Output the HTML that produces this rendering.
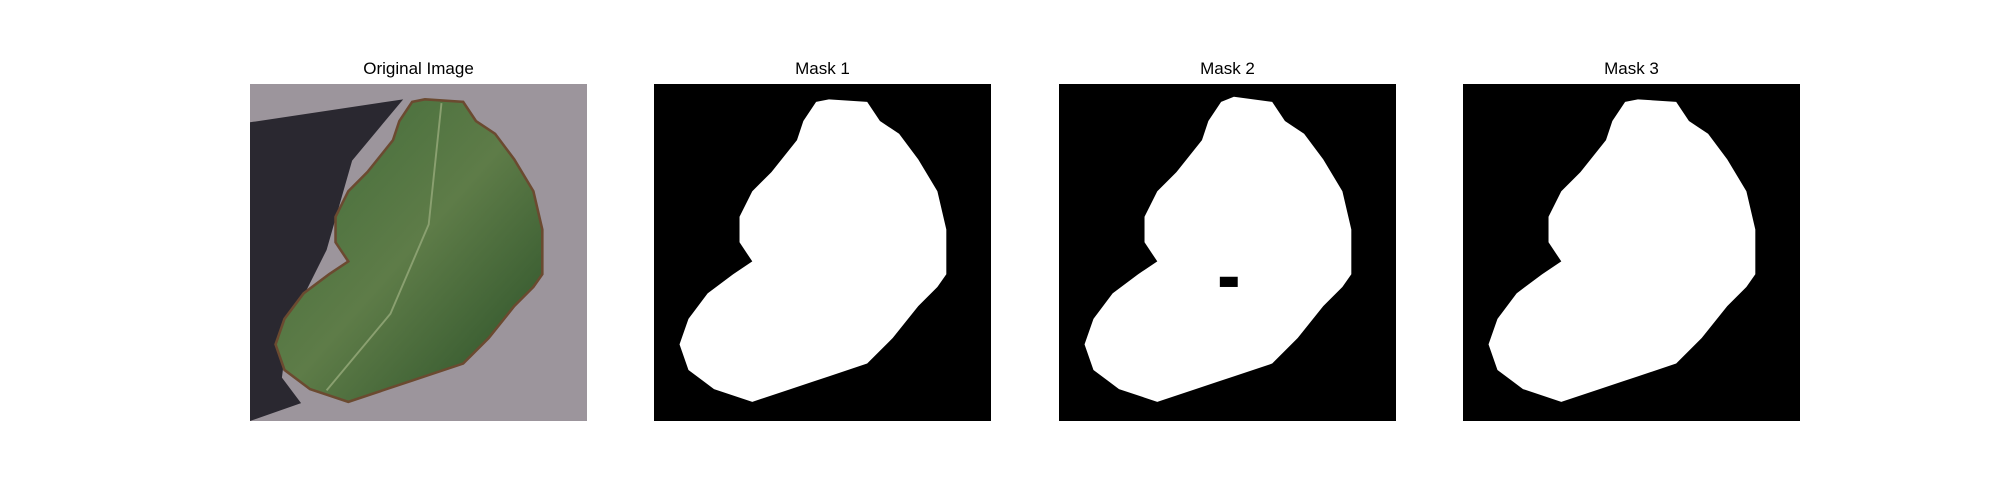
<!DOCTYPE html>
<html><head><meta charset="utf-8"><style>
body{margin:0;background:#fff;width:2000px;height:500px;overflow:hidden;font-family:"Liberation Sans","DejaVu Sans",sans-serif;}
.panel{position:absolute;top:84px;width:337px;height:337px;}
.title{position:absolute;top:59px;width:337px;text-align:center;font-size:17px;color:#000;}
svg{display:block}
</style></head><body>
<div class="title" style="left:250px">Original Image</div>
<div class="title" style="left:654px">Mask 1</div>
<div class="title" style="left:1059px">Mask 2</div>
<div class="title" style="left:1463px">Mask 3</div>

<div class="panel" style="left:250px">
<svg width="337" height="337" viewBox="0 0 264 264">
<defs><linearGradient id="g" x1="0" y1="0" x2="1" y2="1"><stop offset="0" stop-color="#3f6a38"/><stop offset="0.5" stop-color="#5e7c48"/><stop offset="1" stop-color="#284e26"/></linearGradient></defs>
<rect width="264" height="264" fill="#9c959c"/>
<path d="M0,30 L120,12 L80,60 L60,130 L30,190 L25,230 L40,250 L0,264 Z" fill="#2a2830"/>
<path d="M127,14 L137,12 L167,14 L177,29 L192,39 L207,59 L222,84 L229,114 L229,149 L222,159 L207,174 L187,199 L167,219 L137,229 L107,239 L77,249 L47,239 L27,224 L20,204 L27,184 L42,164 L62,149 L77,139 L67,124 L67,104 L77,84 L92,69 L112,44 L117,29 Z" fill="url(#g)" stroke="#6b4a30" stroke-width="2"/>
<path d="M150,15 L140,110 L110,180 L60,240" stroke="#8aa070" stroke-width="1.5" fill="none"/>
</svg></div>

<div class="panel" style="left:654px">
<svg width="337" height="337" viewBox="0 0 264 264"><rect width="264" height="264" fill="#000"/>
<path d="M127,14 L137,12 L167,14 L177,29 L192,39 L207,59 L222,84 L229,114 L229,149 L222,159 L207,174 L187,199 L167,219 L137,229 L107,239 L77,249 L47,239 L27,224 L20,204 L27,184 L42,164 L62,149 L77,139 L67,124 L67,104 L77,84 L92,69 L112,44 L117,29 Z" fill="#fff"/></svg></div>

<div class="panel" style="left:1059px">
<svg width="337" height="337" viewBox="0 0 264 264"><rect width="264" height="264" fill="#000"/>
<path d="M127,14 L137,10 L167,14 L177,29 L192,39 L207,59 L222,84 L229,114 L229,149 L222,159 L207,174 L187,199 L167,219 L137,229 L107,239 L77,249 L47,239 L27,224 L20,204 L27,184 L42,164 L62,149 L77,139 L67,124 L67,104 L77,84 L92,69 L112,44 L117,29 Z" fill="#fff"/>
<rect x="126" y="151" width="14" height="8" fill="#000"/></svg></div>

<div class="panel" style="left:1463px">
<svg width="337" height="337" viewBox="0 0 264 264"><rect width="264" height="264" fill="#000"/>
<path d="M127,14 L137,12 L167,14 L177,29 L192,39 L207,59 L222,84 L229,114 L229,149 L222,159 L207,174 L187,199 L167,219 L137,229 L107,239 L77,249 L47,239 L27,224 L20,204 L27,184 L42,164 L62,149 L77,139 L67,124 L67,104 L77,84 L92,69 L112,44 L117,29 Z" fill="#fff"/></svg></div>
</body></html>
